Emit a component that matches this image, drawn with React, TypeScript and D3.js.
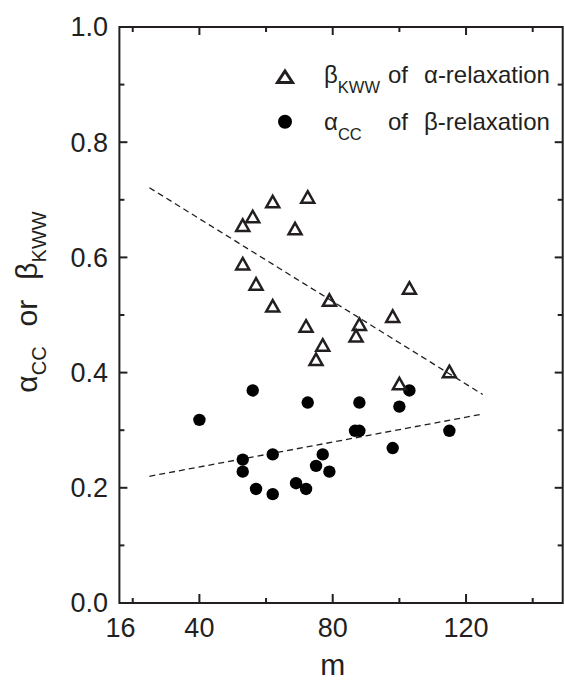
import React from 'react';
import * as d3 from 'd3';

const W = 565;
const H = 681;

// Axis ticks
const xDomain = [16, 149];
const yDomain = [0, 1];
const xTickMajor = [40, 80, 120];
const xTickMinor = [20, 60, 100, 140];
const xTickLabels = [16, 40, 80, 120];
const yTickMajor = [0, 0.2, 0.4, 0.6, 0.8, 1.0];
const yTickMinor = [0.1, 0.3, 0.5, 0.7, 0.9];

// beta_KWW of alpha-relaxation (triangles)
const kwwM = [53, 56, 62, 68.7, 72.5, 53, 57, 62, 72, 77, 75, 79, 88, 87, 98, 103, 100, 115];
const kwwV = [0.656, 0.671, 0.697, 0.65, 0.705, 0.589, 0.554, 0.516, 0.481, 0.448, 0.423, 0.526, 0.484, 0.464, 0.498, 0.547, 0.381, 0.402];

// alpha_CC of beta-relaxation (circles)
const ccM = [40, 56, 72.5, 88, 86.7, 88, 53, 53, 62, 57, 62, 69, 72, 75, 77, 79, 103, 100, 115, 98];
const ccV = [0.318, 0.369, 0.348, 0.348, 0.299, 0.299, 0.249, 0.228, 0.258, 0.198, 0.189, 0.208, 0.198, 0.238, 0.258, 0.228, 0.369, 0.341, 0.299, 0.269];

// dashed guide lines
const upperLineM = [25, 125];
const upperLineV = [0.721, 0.362];
const lowerLineM = [25, 125];
const lowerLineV = [0.22, 0.328];

const FONT = "'Liberation Sans', Arial, Helvetica, sans-serif";
const INK = '#231f20';

export default function App() {
  const left = 119.4, right = 562.7, top = 27, bottom = 603;
  const x = d3.scaleLinear().domain(xDomain).range([left, right]);
  const y = d3.scaleLinear().domain(yDomain).range([bottom, top]);

  const line = d3.line<[number, number]>().x(d => x(d[0])).y(d => y(d[1]));
  const upper = line(upperLineM.map((m, i) => [m, upperLineV[i]] as [number, number]));
  const lower = line(lowerLineM.map((m, i) => [m, lowerLineV[i]] as [number, number]));

  const tri = (cx: number, cy: number, w = 13, h = 11.5) =>
    `M${cx},${cy - h / 2}L${cx + w / 2},${cy + h / 2}L${cx - w / 2},${cy + h / 2}Z`;

  return (
    <svg width={W} height={H} style={{ position: 'absolute', left: 0, top: 0, background: '#fff' }} fontFamily={FONT}>
      <rect x={0} y={0} width={W} height={H} fill="#fff" />
      {/* dashed lines */}
      <path d={upper || ''} fill="none" stroke={INK} strokeWidth={1.3} strokeDasharray="6,4" />
      <path d={lower || ''} fill="none" stroke={INK} strokeWidth={1.3} strokeDasharray="6,4" />

      {/* circles */}
      {ccM.map((m, i) => (
        <circle key={'c' + i} cx={x(m)} cy={y(ccV[i])} r={6.2} fill="#000" />
      ))}
      {/* triangles */}
      {kwwM.map((m, i) => (
        <path key={'t' + i} d={tri(x(m), y(kwwV[i]))} fill="none" stroke={INK} strokeWidth={2.5} strokeLinejoin="miter" />
      ))}

      {/* frame */}
      <rect x={left} y={top} width={right - left} height={bottom - top} fill="none" stroke={INK} strokeWidth={2} />

      {/* x ticks bottom & top */}
      {xTickMajor.map(v => (
        <g key={'xM' + v}>
          <line x1={x(v)} x2={x(v)} y1={bottom} y2={bottom - 9} stroke={INK} strokeWidth={2} />
          <line x1={x(v)} x2={x(v)} y1={top} y2={top + 8} stroke={INK} strokeWidth={2} />
        </g>
      ))}
      {xTickMinor.map(v => (
        <g key={'xm' + v}>
          <line x1={x(v)} x2={x(v)} y1={bottom} y2={bottom - 5} stroke={INK} strokeWidth={2} />
          <line x1={x(v)} x2={x(v)} y1={top} y2={top + 5} stroke={INK} strokeWidth={2} />
        </g>
      ))}
      {/* y ticks left & right */}
      {yTickMajor.map(v => (
        <g key={'yM' + v}>
          <line x1={left} x2={left + 8} y1={y(v)} y2={y(v)} stroke={INK} strokeWidth={2} />
          <line x1={right} x2={right - 8} y1={y(v)} y2={y(v)} stroke={INK} strokeWidth={2} />
        </g>
      ))}
      {yTickMinor.map(v => (
        <g key={'ym' + v}>
          <line x1={left} x2={left + 5} y1={y(v)} y2={y(v)} stroke={INK} strokeWidth={2} />
          <line x1={right} x2={right - 5} y1={y(v)} y2={y(v)} stroke={INK} strokeWidth={2} />
        </g>
      ))}

      {/* tick labels */}
      {xTickLabels.map(v => (
        <text key={'xl' + v} x={x(v) + (v === 16 ? 1 : 0)} y={637} textAnchor="middle" fontSize={27} fill={INK}>{v}</text>
      ))}
      {yTickMajor.map(v => (
        <text key={'yl' + v} x={108} y={y(v) + 9.3} textAnchor="end" fontSize={27} fill={INK}>{v.toFixed(1)}</text>
      ))}

      {/* axis titles */}
      <text x={x(80)} y={675} textAnchor="middle" fontSize={30} fill={INK}>m</text>
      <text transform="translate(37,302) rotate(-90)" textAnchor="middle" fontSize={30} fill={INK}>
        α<tspan dy={9} fontSize={20}>CC</tspan>
        <tspan dy={-9} dx={20}>or</tspan>
        <tspan dx={20}>β</tspan>
        <tspan dy={9} fontSize={20}>KWW</tspan>
      </text>

      {/* legend */}
      <path d={tri(285, 76.7, 15, 11.5)} fill="none" stroke={INK} strokeWidth={3} />
      <circle cx={285} cy={121.7} r={7} fill="#000" />
      <text x={324} y={83} fontSize={24} fill={INK}>β<tspan dy={9.5} fontSize={16.5}>KWW</tspan></text>
      <text x={388} y={83} fontSize={24} fill={INK}>of</text>
      <text x={424} y={83} fontSize={24} fill={INK}>α-relaxation</text>
      <text x={324} y={130} fontSize={24} fill={INK}>α<tspan dy={9.5} fontSize={16.5}>CC</tspan></text>
      <text x={388} y={130} fontSize={24} fill={INK}>of</text>
      <text x={424} y={130} fontSize={24} fill={INK}>β-relaxation</text>
    </svg>
  );
}
